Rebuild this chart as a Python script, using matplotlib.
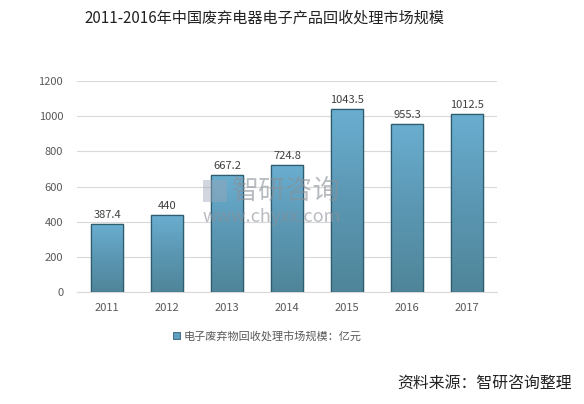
import matplotlib
matplotlib.use("Agg")
import matplotlib.pyplot as plt
import numpy as np
from matplotlib.colors import LinearSegmentedColormap

plt.rcParams['font.family'] = ['Noto Sans CJK SC', 'DejaVu Sans']

years = ['2011', '2012', '2013', '2014', '2015', '2016', '2017']
values = [387.4, 440, 667.2, 724.8, 1043.5, 955.3, 1012.5]
labels = ['387.4', '440', '667.2', '724.8', '1043.5', '955.3', '1012.5']
yticks = [0, 200, 400, 600, 800, 1000, 1200]
title = '2011-2016年中国废弃电器电子产品回收处理市场规模'
legend_label = '电子废弃物回收处理市场规模：亿元'
source = '资料来源：智研咨询整理'

fig = plt.figure(figsize=(5.84, 4.04), dpi=100)
ax = fig.add_axes([0.132, 0.277, 0.719, 0.5225])

x = np.arange(len(years))
bars = ax.bar(x, values, width=0.52, color='#5f9fbd', edgecolor='#2f5d70', linewidth=0.9, zorder=3)

cmap = LinearSegmentedColormap.from_list('g', ['#4f8599', '#5b97b3', '#6aaed0'])
grad = np.linspace(0, 1, 256).reshape(-1, 1)
for b in bars:
    x0, y0 = b.get_x(), b.get_y()
    w, h = b.get_width(), b.get_height()
    im = ax.imshow(grad, extent=[x0, x0 + w, y0, y0 + h], origin='lower',
                   cmap=cmap, aspect='auto', zorder=3.5)
    im.set_clip_path(b)
    ax.bar(x0 + w / 2, h, width=w, bottom=y0, fill=False, edgecolor='#2f5d70',
           linewidth=0.9, zorder=4)

for xi, v, lab in zip(x, values, labels):
    ax.text(xi, v + 22, lab, ha='center', va='bottom', fontsize=8, color='#404040', zorder=5)

ax.set_xlim(-0.5, len(years) - 0.5)
ax.set_ylim(0, 1200)
ax.set_yticks(yticks)
ax.set_xticks(x)
ax.set_xticklabels(years)
ax.tick_params(axis='both', length=0, labelsize=8, colors='#595959')
ax.tick_params(axis='x', pad=8)
ax.tick_params(axis='y', pad=10)
ax.grid(axis='y', color='#d9d9d9', linewidth=0.8, zorder=0)
for s in ['top', 'right', 'left']:
    ax.spines[s].set_visible(False)
ax.spines['bottom'].set_color('#d9d9d9')

fig.text(0.144, 0.955, title, fontsize=10.9, color='#222222', ha='left', va='center')

# legend
fig.patches.append(plt.Rectangle((0.296, 0.160), 0.012, 0.017, transform=fig.transFigure,
                                 facecolor='#5f9fbd', edgecolor='#2f5d70', linewidth=0.6))
fig.text(0.314, 0.169, legend_label, fontsize=8, color='#595959', ha='left', va='center')

fig.text(0.979, 0.052, source, fontsize=11.4, color='#222222', ha='right', va='center')

# watermark
fig.text(0.397, 0.527, '智研咨询', fontsize=19.5, color='#8a9098', alpha=0.6, ha='left', va='center', zorder=10)
fig.text(0.346, 0.463, 'www.chyxx.com', fontsize=13, color='#8a9098', alpha=0.6, ha='left', va='center', zorder=10)
fig.patches.append(plt.Rectangle((0.348, 0.500), 0.040, 0.054, transform=fig.transFigure,
                                 facecolor='#9aa6b8', alpha=0.45, edgecolor='none', zorder=10))

fig.savefig('out.png', dpi=100)
